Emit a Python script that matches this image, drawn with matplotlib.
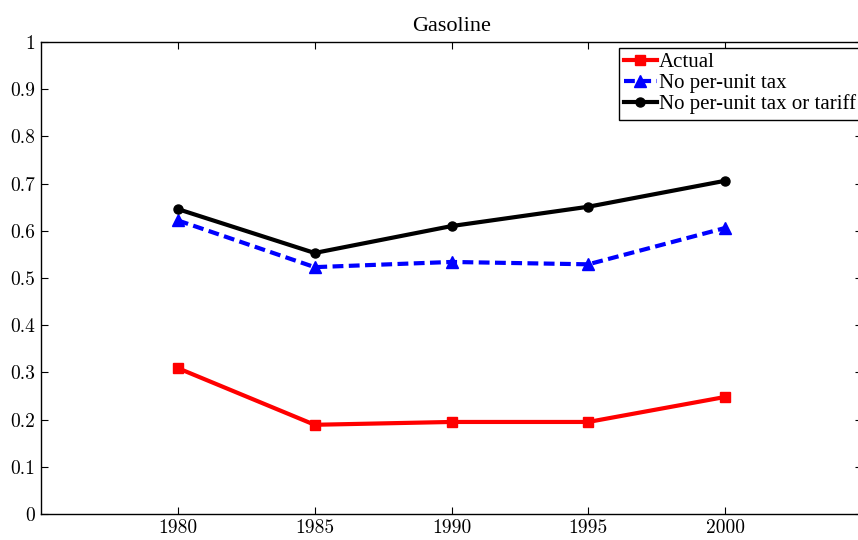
import matplotlib as mpl
mpl.use('Agg')
import matplotlib.pyplot as plt

plt.rcParams['font.family'] = 'cmr10'
plt.rcParams['axes.unicode_minus'] = False
plt.rcParams['mathtext.fontset'] = 'cm'

years = [1980, 1985, 1990, 1995, 2000]
actual = [0.309, 0.189, 0.195, 0.195, 0.248]
no_tax = [0.622, 0.523, 0.534, 0.529, 0.606]
no_tax_tariff = [0.646, 0.553, 0.610, 0.651, 0.706]

labels = ['Actual', 'No per-unit tax', 'No per-unit tax or tariff']

fig = plt.figure(figsize=(8.58, 5.40), dpi=100)
ax = fig.add_axes([41/858, 1-514/540, 821/858, 472/540])

ax.plot(years, actual, color='red', lw=3, marker='s', ms=7, label=labels[0])
ax.plot(years, no_tax, color='blue', lw=3, marker='^', ms=8, dashes=(2.6, 1.3), label=labels[1])
ax.plot(years, no_tax_tariff, color='black', lw=3, marker='o', ms=6.5, label=labels[2])

ax.set_xlim(1975, 2005)
ax.set_ylim(0, 1)
ax.set_xticks(years)
ax.set_yticks([i/10 for i in range(11)])
ax.set_yticklabels(['0'] + ['0.%d' % i for i in range(1, 10)] + ['1'])
ax.tick_params(direction='in', top=True, right=True, length=5, width=0.8, labelsize=14, pad=4)
for s in ax.spines.values():
    s.set_linewidth(1.0)

ax.set_title('Gasoline', fontsize=16, family='Liberation Serif', pad=8)

leg = ax.legend(loc='upper left', bbox_to_anchor=(0.7035, 0.988), fancybox=False, edgecolor='black',
                framealpha=1, prop={'family': 'Liberation Serif', 'size': 15},
                handlelength=1.6, handletextpad=0.1, labelspacing=0.06, borderpad=0.25, borderaxespad=0)
leg.get_frame().set_linewidth(1.0)

fig.savefig('out.png', dpi=100)
